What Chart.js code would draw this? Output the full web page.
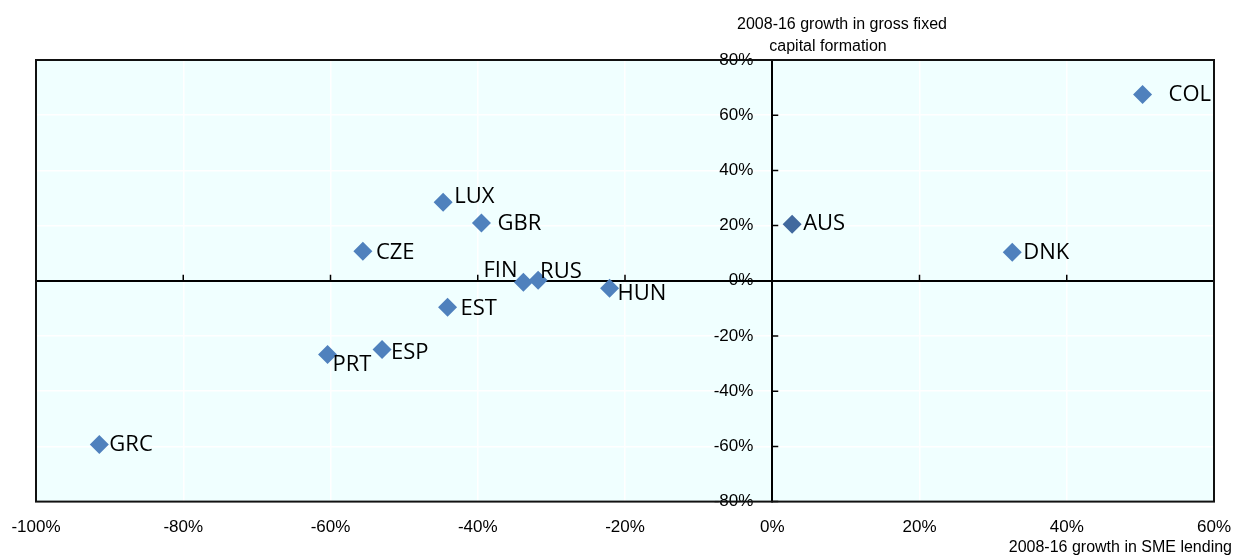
<!DOCTYPE html>
<html>
<head>
<meta charset="utf-8">
<script src="https://cdn.jsdelivr.net/npm/chart.js@4/dist/chart.umd.min.js"></script>
<style>
  html, body { margin: 0; padding: 0; background: #ffffff; }
  #wrap { width: 1234px; height: 558px; position: relative; }
</style>
</head>
<body>
<div id="wrap"><canvas id="c" width="1234" height="558"></canvas></div>
<script>
// ---- data ----
const categories = ['COL', 'AUS', 'DNK', 'LUX', 'GBR', 'CZE', 'FIN', 'RUS', 'HUN', 'EST', 'ESP', 'PRT', 'GRC'];
const smeLendingGrowth = [50.3, 2.7, 32.6, -44.7, -39.5, -55.6, -33.8, -31.8, -22.1, -44.1, -53.0, -60.4, -91.4];
const gfcfGrowth = [67.5, 20.5, 10.3, 28.5, 20.9, 10.7, -0.5, 0.2, -2.7, -9.6, -24.9, -26.7, -59.3];
const xTickValues = [-100, -80, -60, -40, -20, 0, 20, 40, 60];
const yTickValues = [-80, -60, -40, -20, 0, 20, 40, 60, 80];
const xAxisTitle = '2008-16 growth in SME lending';
const yAxisTitle = ['2008-16 growth in gross fixed', 'capital formation'];

// label placement relative to each marker (pixels), separate from the data
const labelOffsets = [[26, 0], [11, 0], [11, 0], [11, -5], [16, 1], [13, 1], [-40, -11], [2, -9], [8, 5], [13, 1], [9, 3], [5, 10], [10, 0]];

const points = categories.map((c, i) => ({ x: smeLendingGrowth[i], y: gfcfGrowth[i] }));

const TICK_FONT = { family: "'Liberation Sans', Arial, sans-serif", size: 17 };

const decor = {
  id: 'decor',
  beforeDraw(chart) {
    const { ctx, chartArea: a } = chart;
    ctx.save();
    ctx.fillStyle = '#F0FFFF';
    ctx.fillRect(a.left, a.top, a.right - a.left, a.bottom - a.top);
    ctx.restore();
  },
  afterDatasetsDraw(chart) {
    const { ctx, chartArea: a } = chart;
    const meta = chart.getDatasetMeta(0);
    ctx.save();
    ctx.beginPath();
    ctx.rect(a.left, a.top, a.right - a.left, a.bottom - a.top);
    ctx.clip();
    ctx.font = "22px 'Open Sans', 'Noto Sans', sans-serif";
    ctx.fillStyle = '#000';
    ctx.textAlign = 'left';
    ctx.textBaseline = 'middle';
    meta.data.forEach((el, i) => {
      const off = labelOffsets[i];
      ctx.fillText(categories[i], el.x + off[0], el.y + off[1]);
    });
    ctx.restore();
  },
  afterDraw(chart) {
    const { ctx, chartArea: a, scales } = chart;
    const xs = scales.x, ys = scales.y;
    const x0 = xs.getPixelForValue(0), y0 = ys.getPixelForValue(0);
    ctx.save();
    // tick marks on the crossing axes
    ctx.strokeStyle = '#000';
    ctx.lineWidth = 1.5;
    ctx.beginPath();
    xs.ticks.forEach(t => {
      if (t.value === 0) return;
      const px = xs.getPixelForValue(t.value);
      ctx.moveTo(px, y0);
      ctx.lineTo(px, y0 - 6);
    });
    ys.ticks.forEach(t => {
      if (t.value === 0) return;
      const py = ys.getPixelForValue(t.value);
      ctx.moveTo(x0, py);
      ctx.lineTo(x0 + 6, py);
    });
    ctx.stroke();
    // frame
    ctx.strokeStyle = '#111';
    ctx.lineWidth = 2;
    ctx.strokeRect(a.left, a.top, a.right - a.left, a.bottom - a.top);
    // axis titles
    ctx.fillStyle = '#000';
    ctx.font = "16px 'Liberation Sans', Arial, sans-serif";
    ctx.textBaseline = 'middle';
    ctx.textAlign = 'center';
    ctx.fillText(yAxisTitle[0], 842, 25);
    ctx.fillText(yAxisTitle[1], 828, 47);
    ctx.textAlign = 'right';
    ctx.fillText(xAxisTitle, 1232, 548);
    ctx.restore();
  }
};

const noSidePadding = s => { s.paddingLeft = 0; s.paddingRight = 0; };

new Chart(document.getElementById('c'), {
  type: 'scatter',
  data: {
    datasets: [{
      label: 'Countries',
      data: points,
      pointStyle: 'rectRot',
      pointRadius: 9.5,
      pointHoverRadius: 9.5,
      borderWidth: 0,
      backgroundColor: ctx => categories[ctx.dataIndex] === 'AUS' ? '#41699E' : '#4F81BD',
      borderColor: ctx => categories[ctx.dataIndex] === 'AUS' ? '#41699E' : '#4F81BD'
    }]
  },
  options: {
    responsive: false,
    animation: false,
    devicePixelRatio: 1,
    layout: { padding: { top: 60, left: 36, right: 20, bottom: 4 } },
    plugins: {
      legend: { display: false },
      tooltip: { enabled: false },
      title: { display: false }
    },
    scales: {
      x: {
        type: 'linear',
        position: 'bottom',
        min: -100,
        max: 60,
        afterBuildTicks: s => { s.ticks = xTickValues.map(v => ({ value: v })); },
        afterFit: noSidePadding,
        ticks: {
          callback: v => v + '%',
          font: TICK_FONT,
          color: '#000',
          padding: 16,
          maxRotation: 0,
          autoSkip: false
        },
        grid: {
          color: c => (c.tick && c.tick.value === 0) ? '#000' : '#FFFFFF',
          lineWidth: c => (c.tick && c.tick.value === 0) ? 2 : 1.5,
          drawTicks: false
        },
        border: { display: false }
      },
      y: {
        type: 'linear',
        position: { x: 0 },
        min: -80,
        max: 80,
        afterBuildTicks: s => { s.ticks = yTickValues.map(v => ({ value: v })); },
        afterFit: noSidePadding,
        ticks: {
          callback: v => v + '%    ',
          font: TICK_FONT,
          color: '#000',
          autoSkip: false
        },
        grid: {
          color: c => (c.tick && c.tick.value === 0) ? '#000' : '#FFFFFF',
          lineWidth: c => (c.tick && c.tick.value === 0) ? 2 : 1.5,
          drawTicks: false
        },
        border: { display: true, color: '#000', width: 2 }
      }
    }
  },
  plugins: [decor]
});
</script>
</body>
</html>
